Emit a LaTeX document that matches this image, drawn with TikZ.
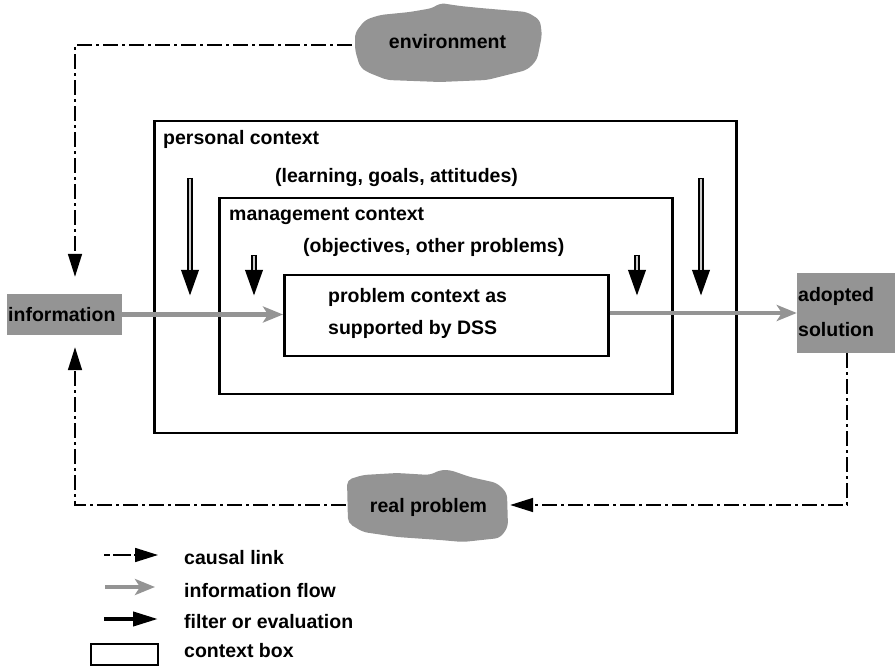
\documentclass[tikz,border=0pt]{standalone}
\usepackage{fontspec}
\setmainfont{Liberation Sans}
\usetikzlibrary{arrows.meta,calc}
\begin{document}
\begin{tikzpicture}[x=1pt,y=-1pt,
  lbl/.style={font=\fontsize{19.5}{22}\selectfont\bfseries, inner sep=0pt, anchor=base west},
  ctxbox/.style={draw, line width=2.5pt, inner sep=0pt, anchor=north west},
  shade/.style={fill=black!42},
  cloudarea/.style={inner sep=0pt},
  causal/.style={line width=1.6pt, dash pattern=on 15pt off 4pt on 3pt off 4pt, -{Triangle[length=23pt,width=14pt]}},
  flow/.style={line width=4.5pt, draw=black!42, -{Stealth[length=20pt,width=16pt,inset=5pt]}},
  filterarrow/.style={line width=6pt, -{Triangle[length=27pt,width=16pt]}},
  filterinner/.style={line width=2pt, draw=black!20, shorten >=27pt, shorten <=1.5pt},
  legfilter/.style={line width=4pt, -{Triangle[length=25pt,width=14pt]}},
]
\useasboundingbox (0,0) rectangle (895,668);

% shaded clouds
\fill[shade, rounded corners=5pt] (365,20) -- (380,15) -- (410,12) -- (433,8) -- (440,3) -- (460,6) -- (480,8) -- (527,12) -- (540,20) -- (542,35) -- (537,60) -- (527,70) -- (487,80) -- (440,82) -- (387,80) -- (367,72) -- (360,67) -- (355,50) -- (355,33) -- cycle;
\fill[shade, rounded corners=5pt] (363,475) -- (397,473) -- (430,475) -- (440,470) -- (450,470) -- (470,477) -- (497,483) -- (507,493) -- (508,527) -- (500,538) -- (463,542) -- (440,540) -- (397,537) -- (363,532) -- (348,523) -- (347,480) -- cycle;

\node[cloudarea, minimum width=192pt, minimum height=78pt] (env) at (448,45) {};
\node[lbl, anchor=base] (envtxt) at (447.5,49) {environment};
\node[cloudarea, minimum width=164pt, minimum height=70pt] (rp) at (428,505) {};
\node[lbl, anchor=base] (rptxt) at (428.5,512) {real problem};

% information and adopted solution
\node[shade, inner sep=0pt, minimum width=115pt, minimum height=41pt] (info) at (64.5,314.5) {};
\node[lbl] (infotxt) at (8,322) {information};
\node[shade, inner sep=0pt, minimum width=98pt, minimum height=80pt] (adopt) at (846,313) {};
\node[lbl] (adopttxt1) at (798,302) {adopted};
\node[lbl] (adopttxt2) at (798,337) {solution};

% context boxes
\node[ctxbox, minimum width=582pt, minimum height=312pt] (pers) at (153,120) {};
\node[ctxbox, minimum width=453pt, minimum height=196pt] (mgmt) at (218,197) {};
\node[ctxbox, minimum width=324pt, minimum height=81pt] (prob) at (283,274) {};

\node[lbl] (perst) at (163,145) {personal context};
\node[lbl] (perst2) at (275,183) {(learning, goals, attitudes)};
\node[lbl] (mgmtt) at (229,221) {management context};
\node[lbl] (mgmtt2) at (303,253) {(objectives, other problems)};
\node[lbl] (probt1) at (328,303) {problem context as};
\node[lbl] (probt2) at (328,335) {supported by DSS};

% information flow
\draw[flow] (info.east) -- (info.east -| prob.west);
\draw[flow] (prob.east |- adopt.west) -- (adopt.west);

% filter arrows
\coordinate (f1s) at (190,178); \coordinate (f1e) at (190,297);
\coordinate (f2s) at (254,255); \coordinate (f2e) at (254,297);
\coordinate (f3s) at (637,255); \coordinate (f3e) at (637,297);
\coordinate (f4s) at (701,178); \coordinate (f4e) at (701,297);
\foreach \i in {1,2,3,4} {
  \draw[filterarrow] (f\i s) -- (f\i e);
  \draw[filterinner] (f\i s) -- (f\i e);
}

% causal links
\coordinate (k1) at (75,45);
\coordinate (k2) at (75,505);
\coordinate (k3) at (847,505);
\draw[causal, shorten >=17pt] (env.west |- k1) -- (k1) -- (k1 |- info.north);
\draw[causal] (adopt.south -| k3) -- (k3) -- (rp.east |- k3);
\draw[causal, shorten >=12pt] (rp.west |- k2) -- (k2) -- (k2 |- info.south);

% legend
\coordinate (lc1) at (104,555); \coordinate (lc2) at (158,555);
\draw[causal, dash pattern=on 6pt off 3pt on 12pt off 0pt] (lc1) -- (lc2);
\coordinate (lf1) at (105,587); \coordinate (lf2) at (155,587);
\draw[flow] (lf1) -- (lf2);
\coordinate (le1) at (104,619); \coordinate (le2) at (158,619);
\draw[legfilter] (le1) -- (le2);
\node[ctxbox, line width=2pt, minimum width=67pt, minimum height=21pt] (legbox) at (90,643) {};

\node[lbl] (l1) at (184,564) {causal link};
\node[lbl] (l2) at (184,597) {information flow};
\node[lbl] (l3) at (184,628) {filter or evaluation};
\node[lbl] (l4) at (184,657) {context box};
\end{tikzpicture}
\end{document}
